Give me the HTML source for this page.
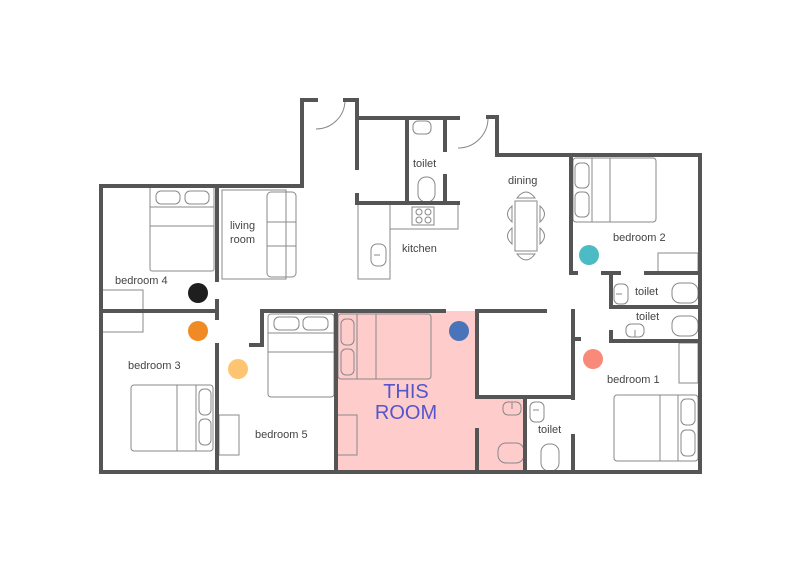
<!DOCTYPE html>
<html><head><meta charset="utf-8"><style>
html,body{margin:0;padding:0;background:#fff;}
svg{display:block}
text{font-family:"Liberation Sans",sans-serif;font-size:11px;fill:#444}
</style></head><body>
<svg width="800" height="582" viewBox="0 0 800 582" xmlns="http://www.w3.org/2000/svg">
<rect x="336" y="311" width="141" height="161" fill="#ffcccc"/>
<rect x="477" y="397" width="48" height="75" fill="#ffcccc"/>
<!-- furniture -->
<g fill="none" stroke="#888" stroke-width="1">
<rect x="150" y="187" width="64" height="84" rx="2"/>
<line x1="150" y1="207" x2="214" y2="207"/><line x1="150" y1="226" x2="214" y2="226"/>
<rect x="156" y="191" width="24" height="13" rx="5"/><rect x="185" y="191" width="24" height="13" rx="5"/>
<rect x="222" y="190" width="64" height="89"/>
<rect x="267" y="192" width="29" height="85" rx="4"/>
<line x1="267" y1="222" x2="296" y2="222"/><line x1="267" y1="246" x2="296" y2="246"/>
<rect x="101" y="290" width="42" height="42"/>
<rect x="358" y="203" width="32" height="76"/>
<rect x="390" y="203" width="68" height="26"/>
<rect x="412" y="207" width="22" height="18"/>
<circle cx="419" cy="212" r="3"/><circle cx="428" cy="212" r="3"/><circle cx="419" cy="220" r="3"/><circle cx="428" cy="220" r="3"/>
<rect x="371" y="244" width="15" height="22" rx="6"/>
<line x1="374" y1="255" x2="380" y2="255"/>
<rect x="413" y="121" width="18" height="13" rx="5"/>
<rect x="418" y="177" width="17" height="25" rx="8"/>
<rect x="131" y="385" width="82" height="66" rx="3"/>
<line x1="177" y1="385" x2="177" y2="451"/><line x1="196" y1="385" x2="196" y2="451"/>
<rect x="199" y="389" width="12" height="26" rx="5"/><rect x="199" y="419" width="12" height="26" rx="5"/>
<rect x="219" y="415" width="20" height="40"/>
<rect x="268" y="314" width="66" height="83" rx="3"/>
<line x1="268" y1="333" x2="334" y2="333"/><line x1="268" y1="352" x2="334" y2="352"/>
<rect x="274" y="317" width="25" height="13" rx="5"/><rect x="303" y="317" width="25" height="13" rx="5"/>
<rect x="338" y="314" width="93" height="65" rx="3"/>
<line x1="357" y1="314" x2="357" y2="379"/><line x1="376" y1="314" x2="376" y2="379"/>
<rect x="341" y="319" width="13" height="26" rx="5"/><rect x="341" y="349" width="13" height="26" rx="5"/>
<rect x="337" y="415" width="20" height="40"/>
<rect x="515" y="201" width="22" height="50"/>
<path d="M517 198 Q526 186 535 198 Z"/><path d="M517 254 Q526 266 535 254 Z"/>
<path d="M512 206 Q503 214 512 222 Z"/><path d="M512 228 Q503 236 512 244 Z"/>
<path d="M540 206 Q549 214 540 222 Z"/><path d="M540 228 Q549 236 540 244 Z"/>
<rect x="573" y="158" width="83" height="64" rx="3"/>
<line x1="592" y1="158" x2="592" y2="222"/><line x1="610" y1="158" x2="610" y2="222"/>
<rect x="575" y="163" width="14" height="25" rx="5"/><rect x="575" y="192" width="14" height="25" rx="5"/>
<rect x="658" y="253" width="40" height="19"/>
<rect x="614" y="284" width="14" height="20" rx="5"/><line x1="616" y1="294" x2="622" y2="294"/>
<rect x="672" y="283" width="26" height="20" rx="8"/>
<rect x="626" y="324" width="18" height="13" rx="5"/><line x1="635" y1="330" x2="635" y2="337"/>
<rect x="672" y="316" width="26" height="20" rx="8"/>
<rect x="679" y="343" width="19" height="40"/>
<rect x="614" y="395" width="84" height="66" rx="3"/>
<line x1="660" y1="395" x2="660" y2="461"/><line x1="678" y1="395" x2="678" y2="461"/>
<rect x="681" y="399" width="14" height="26" rx="5"/><rect x="681" y="430" width="14" height="26" rx="5"/>
<rect x="503" y="402" width="18" height="13" rx="5"/><line x1="512" y1="402" x2="512" y2="409"/>
<rect x="498" y="443" width="26" height="20" rx="8"/>
<rect x="530" y="402" width="14" height="20" rx="5"/><line x1="533" y1="410" x2="539" y2="410"/>
<rect x="541" y="444" width="18" height="27" rx="8"/>
<path d="M316 129 A29 29 0 0 0 345 100"/>
<path d="M458 148 A30 30 0 0 0 488 117"/>
</g>
<!-- walls -->
<g fill="none" stroke="#555" stroke-width="4" stroke-linecap="square">
<polyline points="101,472 101,186 302,186 302,100 316,100"/>
<polyline points="345,100 357,100 357,168"/>
<polyline points="357,195 357,203 458,203"/>
<line x1="357" y1="118" x2="458" y2="118"/>
<line x1="407" y1="118" x2="407" y2="203"/>
<line x1="445" y1="118" x2="445" y2="150"/><line x1="445" y1="176" x2="445" y2="203"/>
<polyline points="488,117 497,117 497,155 700,155 700,472 101,472"/>
<line x1="571" y1="155" x2="571" y2="273"/>
<line x1="571" y1="273" x2="576" y2="273"/><line x1="603" y1="273" x2="619" y2="273"/><line x1="646" y1="273" x2="700" y2="273"/>
<line x1="611" y1="273" x2="611" y2="307"/>
<line x1="611" y1="307" x2="700" y2="307"/>
<polyline points="611,332 611,341 700,341"/>
<line x1="573" y1="311" x2="573" y2="398"/><line x1="573" y1="436" x2="573" y2="472"/>
<line x1="573" y1="339" x2="579" y2="339"/>
<line x1="477" y1="311" x2="545" y2="311"/>
<line x1="477" y1="311" x2="477" y2="395"/>
<line x1="477" y1="397" x2="573" y2="397"/>
<line x1="477" y1="430" x2="477" y2="472"/>
<line x1="525" y1="397" x2="525" y2="472"/>
<line x1="262" y1="311" x2="444" y2="311"/>
<line x1="336" y1="311" x2="336" y2="472"/>
<polyline points="251,345 262,345 262,311"/>
<line x1="217" y1="345" x2="217" y2="472"/>
<line x1="101" y1="311" x2="217" y2="311"/>
<line x1="217" y1="301" x2="217" y2="318"/>
<line x1="217" y1="186" x2="217" y2="280"/>
</g>
<circle cx="198" cy="293" r="10" fill="#1e1e1e"/>
<circle cx="198" cy="331" r="10" fill="#f08a24"/>
<circle cx="238" cy="369" r="10" fill="#fdc572"/>
<circle cx="459" cy="331" r="10" fill="#4a74b8"/>
<circle cx="589" cy="255" r="10" fill="#4bbcc4"/>
<circle cx="593" cy="359" r="10" fill="#f98a7a"/>
<text x="115" y="284">bedroom 4</text>
<text x="230" y="229">living</text><text x="230" y="243">room</text>
<text x="413" y="167">toilet</text>
<text x="402" y="252">kitchen</text>
<text x="508" y="184">dining</text>
<text x="613" y="241">bedroom 2</text>
<text x="635" y="295">toilet</text>
<text x="636" y="320">toilet</text>
<text x="607" y="383">bedroom 1</text>
<text x="538" y="433">toilet</text>
<text x="128" y="369">bedroom 3</text>
<text x="255" y="438">bedroom 5</text>
<text x="406" y="398" text-anchor="middle" style="font-size:20px;fill:#5555cc">THIS</text>
<text x="406" y="419" text-anchor="middle" style="font-size:20px;fill:#5555cc">ROOM</text>
</svg>
</body></html>
